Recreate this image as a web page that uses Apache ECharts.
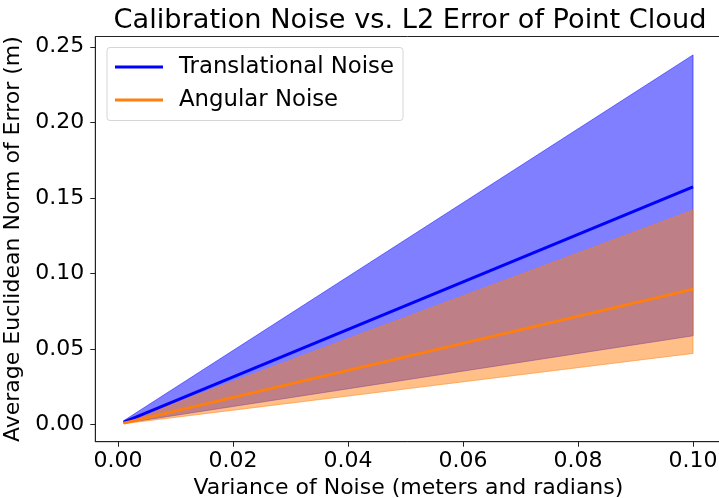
<!DOCTYPE html>
<html>
<head>
<meta charset="utf-8">
<script src="https://cdn.jsdelivr.net/npm/echarts@6/dist/echarts.min.js"></script>
<style>
html,body{margin:0;padding:0;background:#fff;}
#chart{width:719px;height:498px;}
</style>
</head>
<body>
<div id="chart"></div>
<script>
// ---- data ----
const xValues = [0.001, 0.1];
const transMean = [0.0016, 0.1573];
const transLower = [0.0008, 0.0587];
const transUpper = [0.0025, 0.2446];
const angMean = [0.0009, 0.0896];
const angLower = [0.0005, 0.0470];
const angUpper = [0.0014, 0.1419];
const xTicks = [0.00, 0.02, 0.04, 0.06, 0.08, 0.10];
const yTicks = [0.00, 0.05, 0.10, 0.15, 0.20, 0.25];
const seriesNames = ['Translational Noise', 'Angular Noise'];

const pairs = (ys) => xValues.map((x, i) => [x, ys[i]]);

function bandSeries(lower, upper, color, z) {
  return {
    type: 'custom', silent: true, z: z,
    data: pairs(upper),
    encode: {x: 0, y: 1},
    renderItem: function (params, api) {
      if (params.dataIndex !== 0) return null;
      const pts = [];
      for (let i = 0; i < xValues.length; i++) pts.push(api.coord([xValues[i], upper[i]]));
      for (let i = xValues.length - 1; i >= 0; i--) pts.push(api.coord([xValues[i], lower[i]]));
      return {
        type: 'polygon',
        shape: {points: pts},
        style: {fill: color, opacity: 0.5, stroke: color, lineWidth: 1}
      };
    }
  };
}

const FONT = 'DejaVu Sans';
const FS = 22;
const chart = echarts.init(document.getElementById('chart'), null, {renderer: 'canvas'});
chart.setOption({
  animation: false,
  backgroundColor: '#fff',
  textStyle: {fontFamily: FONT},
  title: {
    text: 'Calibration Noise vs. L2 Error of Point Cloud',
    left: 405, textAlign: 'center', top: 2,
    textStyle: {fontFamily: FONT, fontSize: 27.2, fontWeight: 'normal', color: '#000'}
  },
  legend: {
    data: [
      {name: seriesNames[0], icon: 'rect'},
      {name: seriesNames[1], icon: 'rect'}
    ],
    orient: 'vertical',
    left: 107, top: 47.5,
    itemWidth: 48, itemHeight: 3,
    itemGap: 10,
    padding: [8, 9, 9, 8],
    borderColor: '#d5d5d5', borderWidth: 1, borderRadius: 3,
    backgroundColor: 'rgba(255,255,255,0.8)',
    textStyle: {fontFamily: FONT, fontSize: 22.8, color: '#000', lineHeight: 23, padding: [0, 0, 0, 11]}
  },
  grid: {
    left: 95.3, right: -2.5, top: 36.5, bottom: 56.3,
    outerBoundsMode: 'none', containLabel: false,
    show: true, borderColor: '#222', borderWidth: 1, backgroundColor: 'transparent'
  },
  xAxis: {
    type: 'value',
    min: -0.00395, max: 0.10495,
    name: 'Variance of Noise (meters and radians)',
    nameLocation: 'middle', nameGap: 30,
    nameTextStyle: {fontFamily: FONT, fontSize: FS, color: '#000'},
    axisLine: {show: true, onZero: false, lineStyle: {color: '#222', width: 1}},
    axisTick: {show: true, length: 5, lineStyle: {color: '#222'}, customValues: xTicks},
    axisLabel: {fontFamily: FONT, fontSize: FS, color: '#000', margin: 9,
      customValues: xTicks, formatter: v => v.toFixed(2)},
    splitLine: {show: false}
  },
  yAxis: {
    type: 'value',
    min: -0.0114, max: 0.2568,
    name: 'Average Euclidean Norm of Error (m)',
    nameLocation: 'middle', nameGap: 70,
    nameTextStyle: {fontFamily: FONT, fontSize: FS, color: '#000'},
    axisLine: {show: true, onZero: false, lineStyle: {color: '#222', width: 1}},
    axisTick: {show: true, length: 5, lineStyle: {color: '#222'}, customValues: yTicks},
    axisLabel: {fontFamily: FONT, fontSize: FS, color: '#000', margin: 11,
      customValues: yTicks, formatter: v => v.toFixed(2)},
    splitLine: {show: false}
  },
  series: [
    bandSeries(transLower, transUpper, '#0000ff', 1),
    bandSeries(angLower, angUpper, '#ff7f0e', 2),
    {name: seriesNames[0], type: 'line', data: pairs(transMean), symbol: 'none',
      color: '#0000ff', lineStyle: {color: '#0000ff', width: 3}, z: 3},
    {name: seriesNames[1], type: 'line', data: pairs(angMean), symbol: 'none',
      color: '#ff7f0e', lineStyle: {color: '#ff7f0e', width: 3}, z: 3}
  ]
});
</script>
</body>
</html>
